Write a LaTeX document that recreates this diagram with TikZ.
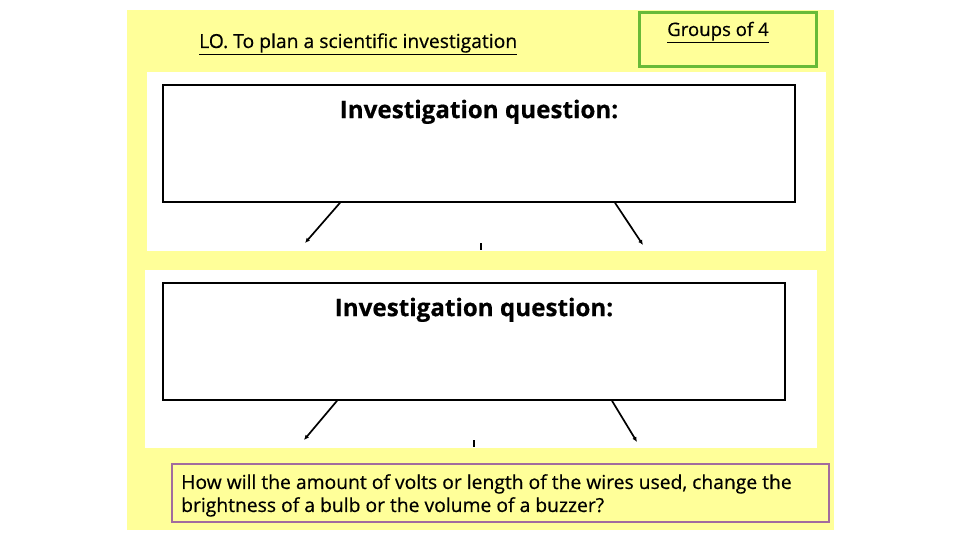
\documentclass[tikz,border=0pt]{standalone}
\usepackage{fontspec}
\setmainfont{Open Sans}[FakeBold=0.5]
\usetikzlibrary{positioning,arrows.meta}
\definecolor{lemon}{RGB}{255,255,153}
\definecolor{grpgreen}{RGB}{104,186,56}
\definecolor{qpurple}{RGB}{162,108,158}
\tikzset{
  qbox/.style={draw=black, line width=1.6pt, fill=white, minimum height=117pt},
  qtitle/.style={font=\bfseries\fontsize{24.2}{27}\selectfont},
  pointer/.style={line width=1.7pt, -{Latex[length=5pt,width=4.5pt]}},
  plain/.style={font=\fontsize{19.3}{22}\selectfont}
}
\begin{document}
\begin{tikzpicture}[x=1pt,y=-1pt]
  \useasboundingbox (0,0) rectangle (960,540);
  \fill[lemon] (127,10) rectangle (834,530);

  % header
  \node[plain, anchor=base west, inner sep=0pt] (lo) at (199,48) {\underline{LO. To plan a scientific investigation}};
  \node[draw=grpgreen, line width=2.6pt, minimum width=177pt, minimum height=54pt] (groups) at (728,39.5) {};
  \node[font=\fontsize{18.6}{22}\selectfont, anchor=base, inner sep=0pt] (groupstext) at (718,36) {\underline{Groups of 4}};

  % the two question panels
  \fill[white] (147,72) rectangle (826,251);
  \fill[white] (145,270) rectangle (817,448);
  \foreach \n/\cx/\cy/\w/\lo/\ro/\lx/\ly/\rx/\ry/\tx in
    {1/479/143.5/632/-139/136/305/243/643/245/481,
     2/474/341.5/622/-137/138/304/440/637/442/474}
  {
    \node[qbox, minimum width=\w pt] (q\n) at (\cx,\cy) {};
    \node[qtitle, below=12pt of q\n.north] (q\n t) {Investigation question:};
    \coordinate (q\n l) at (\lx,\ly);
    \coordinate (q\n r) at (\rx,\ry);
    \draw[pointer] ([xshift=\lo pt]q\n.south) -- (q\n l);
    \draw[pointer] ([xshift=\ro pt]q\n.south) -- (q\n r);
    \draw[line width=1.6pt] (\tx,\ly) -- (\tx,\ly+7);
  }

  % the question
  \node[draw=qpurple, line width=2pt, minimum width=657pt, minimum height=58pt] (question) at (500.5,493) {};
  \node[anchor=north west, align=left, inner sep=0pt, font=\fontsize{19.3}{23}\selectfont] (questiontext) at (181,474)
    {How will the amount of volts or length of the wires used, change the\\
     brightness of a bulb or the volume of a buzzer?};
\end{tikzpicture}
\end{document}
